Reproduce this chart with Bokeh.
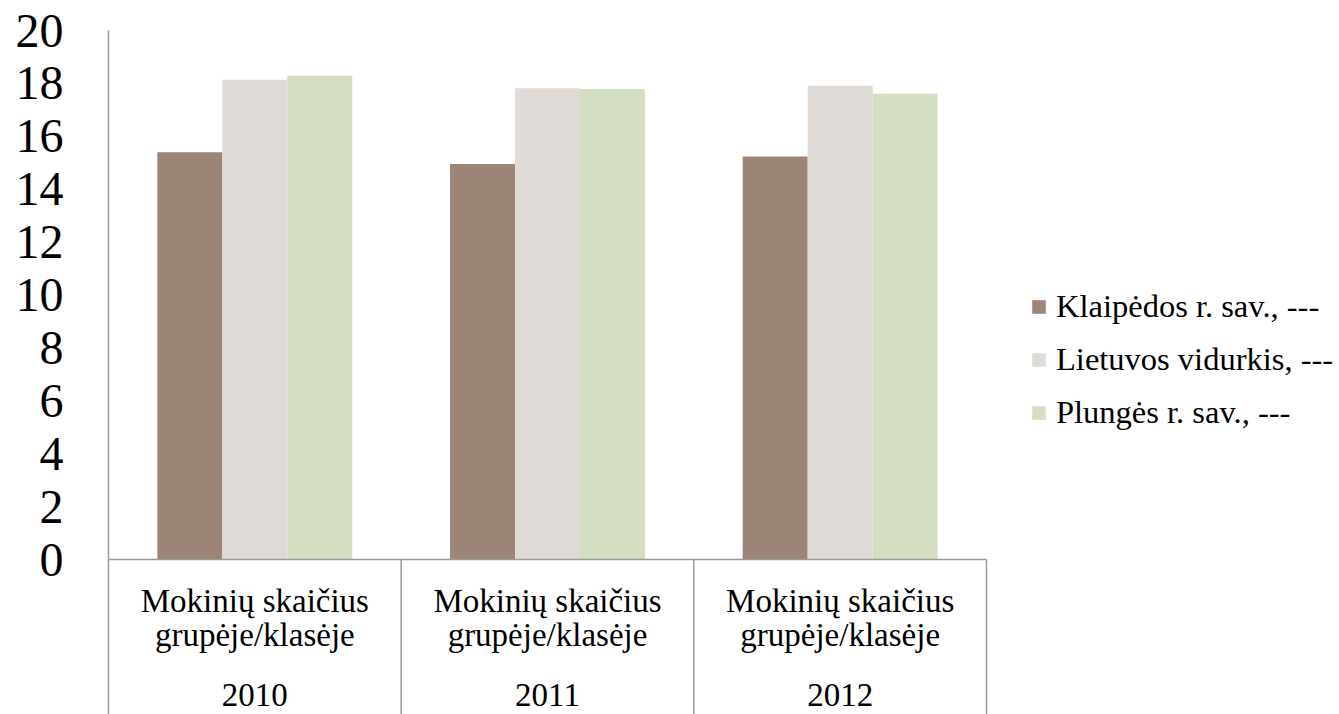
from bokeh.plotting import figure
from bokeh.models import Range1d, FixedTicker, Legend, LegendItem, ColumnDataSource
from bokeh.transform import dodge
from bokeh.core.properties import value
from bokeh.embed import file_html
from bokeh.resources import INLINE

# ---------------- data ----------------
years = ["2010", "2011", "2012"]
category_line1 = "Mokinių skaičius"
category_line2 = "grupėje/klasėje"
series_names = ["Klaipėdos r. sav., ---", "Lietuvos vidurkis, ---", "Plungės r. sav., ---"]
klaipedos = [15.40, 14.95, 15.24]
lietuvos = [18.14, 17.82, 17.91]
plunges = [18.29, 17.79, 17.61]
y_ticks = [0, 2, 4, 6, 8, 10, 12, 14, 16, 18, 20]

# ---------------- style / layout ----------------
colors = ["#9c8577", "#dfdad6", "#d3dfc0"]
axis_color = "#9a9a9a"
FONT = "Liberation Serif"

W, H = 1339, 714
border_left, border_top = 108, 30
cat_px = 878 / 3.0                    # pixel width of one category slot
frame_w = W - border_left
frame_h = H - border_top
px_per_unit = 529 / 20.0
y_start = -(frame_h - 529) / px_per_unit
bar_w = 0.222
n = len(years)

# category slot centres / boundaries (one slot per category)
x_centres = [i + 0.5 for i in range(n)]
x_bounds = [i + 1 for i in range(n)]

p = figure(
    x_range=Range1d(0, frame_w / cat_px),
    y_range=Range1d(y_start, 20),
    width=W, height=H,
    min_border_left=border_left, min_border_top=border_top,
    min_border_bottom=0, min_border_right=0,
    x_axis_location=None,
    output_backend="svg", toolbar_location=None,
)
p.outline_line_color = None
p.xgrid.visible = False
p.ygrid.visible = False
p.background_fill_color = "white"
p.border_fill_color = "white"

ax = p.yaxis[0]
ax.ticker = FixedTicker(ticks=y_ticks)
ax.axis_line_color = axis_color
ax.axis_line_width = 1.5
ax.major_tick_line_color = None
ax.minor_tick_line_color = None
ax.major_tick_out = 0
ax.major_tick_in = 0
ax.major_label_standoff = 45
ax.major_label_text_font = FONT
ax.major_label_text_font_size = "48px"
ax.major_label_text_color = "#000000"

src = ColumnDataSource(dict(years=years, x=x_centres, xb=x_bounds,
                            k=klaipedos, l=lietuvos, pl=plunges))
r1 = p.vbar(x=dodge("x", -bar_w), top="k", width=bar_w, source=src,
            fill_color=colors[0], line_color=None)
r2 = p.vbar(x="x", top="l", width=bar_w, source=src,
            fill_color=colors[1], line_color=None)
r3 = p.vbar(x=dodge("x", bar_w), top="pl", width=bar_w, source=src,
            fill_color=colors[2], line_color=None)

# category box lines
p.segment(x0="xb", y0=0, x1="xb", y1=y_start, source=src,
          line_color=axis_color, line_width=1.5)
p.segment(x0=0, y0=0, x1=n, y1=0, line_color=axis_color, line_width=1.5)

# category labels
common = dict(source=src, text_align="center", text_baseline="alphabetic",
              text_font=value(FONT), text_font_size="33px", text_color="#000000")
p.text(x="x", y=0, text=value(category_line1), y_offset=41, **common)
p.text(x="x", y=0, text=value(category_line2), y_offset=75, **common)
p.text(x="x", y=0, text="years", y_offset=135, **common)

legend = Legend(
    items=[LegendItem(label=series_names[0], renderers=[r1]),
           LegendItem(label=series_names[1], renderers=[r2]),
           LegendItem(label=series_names[2], renderers=[r3])],
    location=(1030 - border_left, 283), orientation="vertical",
    glyph_width=17, glyph_height=17, label_standoff=9,
    label_text_font=FONT, label_text_font_size="32.5px", label_text_color="#000000",
    label_height=38, spacing=15, padding=0, margin=0,
    border_line_color=None, background_fill_alpha=0,
)
p.add_layout(legend, "center")

open("out.html", "w").write(file_html(p, INLINE))
